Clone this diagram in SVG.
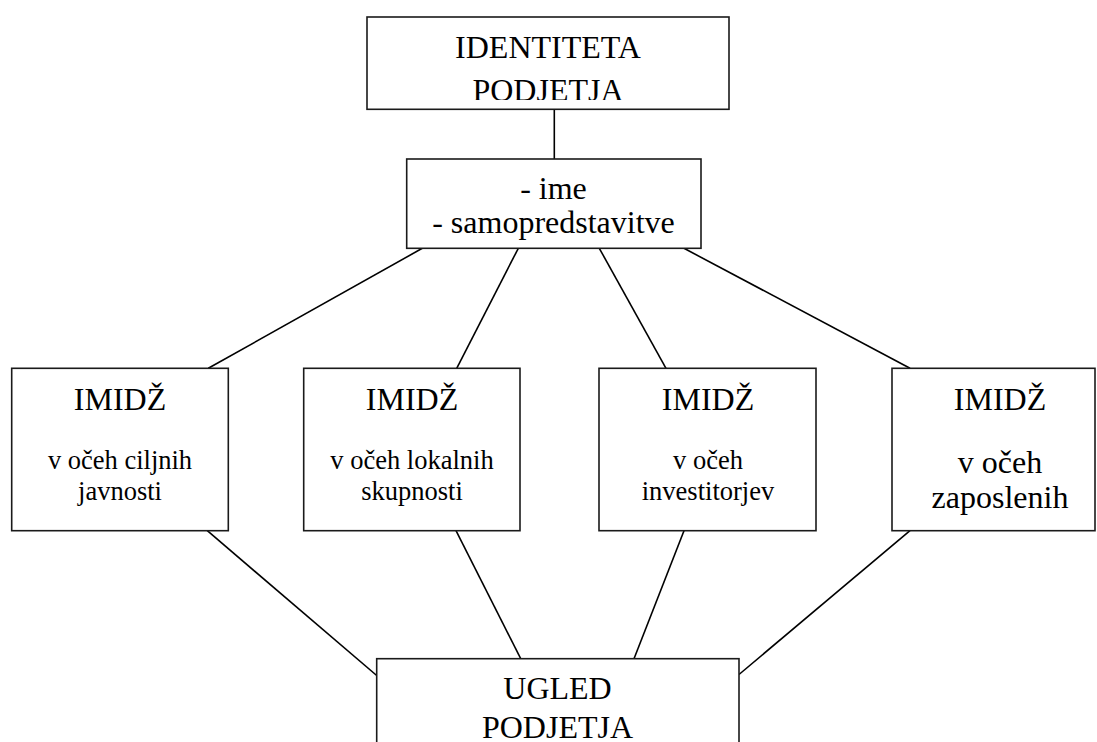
<svg xmlns="http://www.w3.org/2000/svg" width="1097" height="742" viewBox="0 0 1097 742">
  <style>
    .box { fill: #ffffff; stroke: #1a1a1a; stroke-width: 1.6; }
    .link { stroke: #000000; stroke-width: 1.6; fill: none; }
    .lbl { font-family: "Liberation Serif", "Times New Roman", serif; fill: #000000; text-anchor: middle; }
    .big { font-size: 32px; }
    .small { font-size: 26.5px; }
  </style>
  <defs>
    <clipPath id="topClip">
      <rect x="367" y="17" width="362" height="83"/>
    </clipPath>
  </defs>
  <rect width="1097" height="742" fill="#ffffff"/>

  <!-- connectors -->
  <g id="connectors">
    <line class="link" x1="554.3" y1="109.3" x2="554.3" y2="159"/>
    <line class="link" x1="422.3" y1="248.3" x2="208.3" y2="368.3"/>
    <line class="link" x1="518.3" y1="248.3" x2="456.7" y2="368.3"/>
    <line class="link" x1="599.3" y1="248.3" x2="666" y2="368.3"/>
    <line class="link" x1="684" y1="248.3" x2="910" y2="368.3"/>
    <line class="link" x1="207.3" y1="530.7" x2="376.7" y2="675.5"/>
    <line class="link" x1="456" y1="530.7" x2="520.7" y2="658.7"/>
    <line class="link" x1="684" y1="530.7" x2="634" y2="658.7"/>
    <line class="link" x1="910" y1="530.7" x2="739" y2="674.5"/>
  </g>

  <!-- company identity -->
  <g id="identiteta">
    <rect class="box" x="367" y="17" width="362" height="92.3"/>
    <g clip-path="url(#topClip)">
      <text class="lbl big" x="548" y="57.7">IDENTITETA</text>
      <text class="lbl big" x="548" y="101">PODJETJA</text>
    </g>
  </g>

  <!-- name and self-presentation -->
  <g id="samopredstavitve">
    <rect class="box" x="406.7" y="159" width="294.3" height="89.3"/>
    <text class="lbl big" x="553.5" y="199">- ime</text>
    <text class="lbl big" x="553.5" y="233.3">- samopredstavitve</text>
  </g>

  <!-- image groups -->
  <g id="imidz-ciljne">
    <rect class="box" x="11.7" y="368.3" width="216.6" height="162.4"/>
    <text class="lbl big" x="120" y="409.5">IMIDŽ</text>
    <text class="lbl small" x="120" y="469">v očeh ciljnih</text>
    <text class="lbl small" x="120" y="499.5">javnosti</text>
  </g>

  <g id="imidz-lokalne">
    <rect class="box" x="303.7" y="368.3" width="216.3" height="162.4"/>
    <text class="lbl big" x="412" y="409.5">IMIDŽ</text>
    <text class="lbl small" x="412" y="469">v očeh lokalnih</text>
    <text class="lbl small" x="412" y="499.5">skupnosti</text>
  </g>

  <g id="imidz-investitorji">
    <rect class="box" x="599" y="368.3" width="217" height="162.4"/>
    <text class="lbl big" x="708" y="409.5">IMIDŽ</text>
    <text class="lbl small" x="708" y="469">v očeh</text>
    <text class="lbl small" x="708" y="499.5">investitorjev</text>
  </g>

  <g id="imidz-zaposleni">
    <rect class="box" x="892" y="368.3" width="203" height="162.4"/>
    <text class="lbl big" x="1000" y="409.5">IMIDŽ</text>
    <text class="lbl big" x="1000" y="473">v očeh</text>
    <text class="lbl big" x="1000" y="508.3">zaposlenih</text>
  </g>

  <!-- company reputation -->
  <g id="ugled">
    <rect class="box" x="376.7" y="658.7" width="362.3" height="120"/>
    <text class="lbl big" x="557.5" y="699">UGLED</text>
    <text class="lbl big" x="557.5" y="738">PODJETJA</text>
  </g>
</svg>
